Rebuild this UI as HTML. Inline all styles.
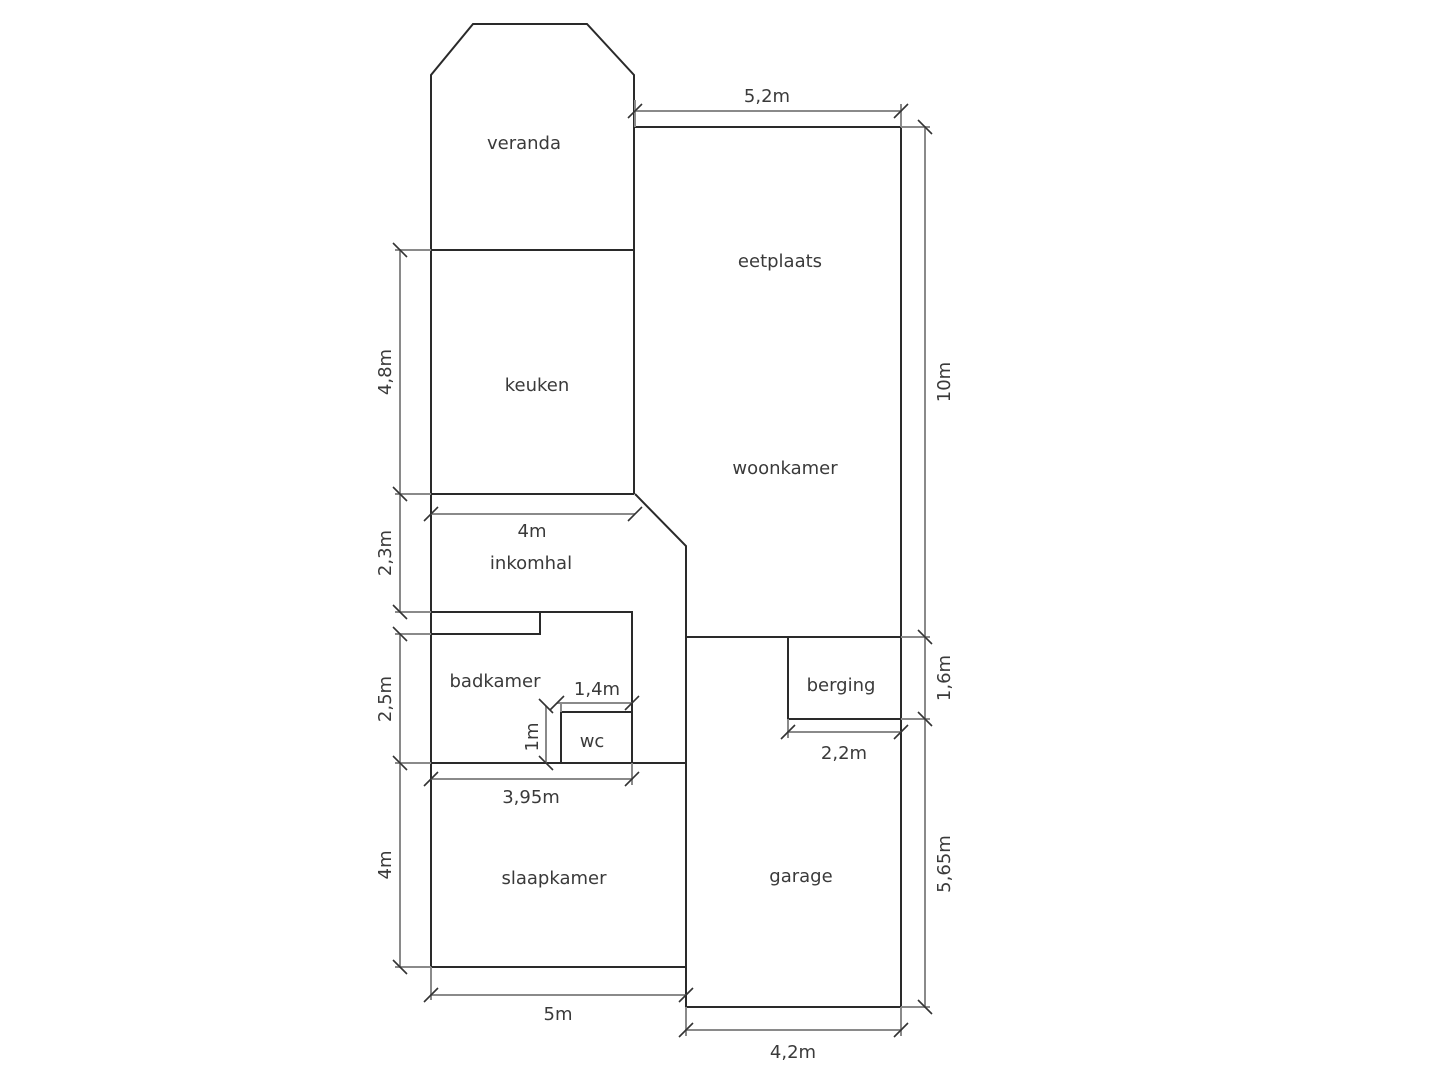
<!DOCTYPE html>
<html><head><meta charset="utf-8"><style>
html,body{margin:0;padding:0;background:#fff;}
svg{display:block}
text{font-family:"DejaVu Sans","Liberation Sans",sans-serif;font-size:18px;fill:#3a3a3a;}
</style></head><body>
<svg width="1446" height="1080" viewBox="0 0 1446 1080" xmlns="http://www.w3.org/2000/svg">
<g fill="none" stroke="#2a2a2a" stroke-width="2">
<path d="M431,494 L431,75 L473,24 L587,24 L634,75 L634,494"/>
<line x1="431" y1="250" x2="634" y2="250"/>
<line x1="431" y1="494" x2="634" y2="494"/>
<path d="M635,127 L901,127 L901,1007 L686,1007"/>
<line x1="686" y1="637" x2="901" y2="637"/>
<path d="M635,494 L686,546 L686,1007"/>
<line x1="431" y1="494" x2="431" y2="967"/>
<path d="M431,612 L632,612 L632,763"/>
<path d="M431,634 L540,634 L540,612"/>
<line x1="431" y1="763" x2="686" y2="763"/>
<path d="M561,763 L561,712 L632,712"/>
<line x1="431" y1="967" x2="686" y2="967"/>
<path d="M788,637 L788,719 L901,719"/>
</g>
<g fill="none" stroke="#8a8a8a" stroke-width="2">
<line x1="635" y1="111" x2="901" y2="111"/>
<line x1="635" y1="100" x2="635" y2="127"/>
<line x1="901" y1="104" x2="901" y2="127"/>
<line x1="925" y1="127" x2="925" y2="1007"/>
<line x1="901" y1="127" x2="930" y2="127"/>
<line x1="901" y1="637" x2="930" y2="637"/>
<line x1="901" y1="719" x2="930" y2="719"/>
<line x1="901" y1="1007" x2="930" y2="1007"/>
<line x1="400" y1="250" x2="400" y2="612"/>
<line x1="400" y1="634" x2="400" y2="967"/>
<line x1="395" y1="250" x2="431" y2="250"/>
<line x1="395" y1="494" x2="431" y2="494"/>
<line x1="395" y1="612" x2="431" y2="612"/>
<line x1="395" y1="634" x2="431" y2="634"/>
<line x1="395" y1="763" x2="431" y2="763"/>
<line x1="395" y1="967" x2="431" y2="967"/>
<line x1="431" y1="514" x2="635" y2="514"/>
<line x1="431" y1="779" x2="632" y2="779"/>
<line x1="632" y1="763" x2="632" y2="785"/>
<line x1="557" y1="703" x2="632" y2="703"/>
<line x1="561" y1="703" x2="561" y2="712"/>
<line x1="546" y1="706" x2="546" y2="763"/>
<line x1="788" y1="732" x2="901" y2="732"/>
<line x1="788" y1="719" x2="788" y2="738"/>
<line x1="431" y1="995" x2="686" y2="995"/>
<line x1="431" y1="967" x2="431" y2="1000"/>
<line x1="686" y1="1030" x2="901" y2="1030"/>
<line x1="686" y1="1007" x2="686" y2="1036"/>
<line x1="901" y1="1007" x2="901" y2="1036"/>
</g>
<g stroke="#333" stroke-width="1.6">
<path d="M628,118 l14,-14 M894,118 l14,-14
M424,521 l14,-14 M628,521 l14,-14
M424,786 l14,-14 M625,786 l14,-14
M550,710 l14,-14 M625,710 l14,-14
M781,739 l14,-14 M894,739 l14,-14
M424,1002 l14,-14 M679,1002 l14,-14
M679,1037 l14,-14 M894,1037 l14,-14"/>
<path d="M918,120 l14,14 M918,630 l14,14 M918,712 l14,14 M918,1000 l14,14
M393,243 l14,14 M393,487 l14,14 M393,605 l14,14 M393,627 l14,14 M393,756 l14,14 M393,960 l14,14
M539,699 l14,14 M539,756 l14,14"/>
</g>
<g>
<text x="524" y="149" text-anchor="middle">veranda</text>
<text x="780" y="267" text-anchor="middle">eetplaats</text>
<text x="537" y="391" text-anchor="middle">keuken</text>
<text x="785" y="474" text-anchor="middle">woonkamer</text>
<text x="532" y="537" text-anchor="middle">4m</text>
<text x="531" y="569" text-anchor="middle">inkomhal</text>
<text x="495" y="687" text-anchor="middle">badkamer</text>
<text x="597" y="695" text-anchor="middle">1,4m</text>
<text x="592" y="747" text-anchor="middle">wc</text>
<text x="531" y="803" text-anchor="middle">3,95m</text>
<text x="554" y="884" text-anchor="middle">slaapkamer</text>
<text x="558" y="1020" text-anchor="middle">5m</text>
<text x="767" y="102" text-anchor="middle">5,2m</text>
<text x="841" y="691" text-anchor="middle">berging</text>
<text x="844" y="759" text-anchor="middle">2,2m</text>
<text x="801" y="882" text-anchor="middle">garage</text>
<text x="793" y="1058" text-anchor="middle">4,2m</text>
<text transform="translate(950,382) rotate(-90)" text-anchor="middle">10m</text>
<text transform="translate(950,678) rotate(-90)" text-anchor="middle">1,6m</text>
<text transform="translate(950,864) rotate(-90)" text-anchor="middle">5,65m</text>
<text transform="translate(391,372) rotate(-90)" text-anchor="middle">4,8m</text>
<text transform="translate(391,553) rotate(-90)" text-anchor="middle">2,3m</text>
<text transform="translate(391,699) rotate(-90)" text-anchor="middle">2,5m</text>
<text transform="translate(391,865) rotate(-90)" text-anchor="middle">4m</text>
<text transform="translate(538,737) rotate(-90)" text-anchor="middle">1m</text>
</g>
</svg>
</body></html>
